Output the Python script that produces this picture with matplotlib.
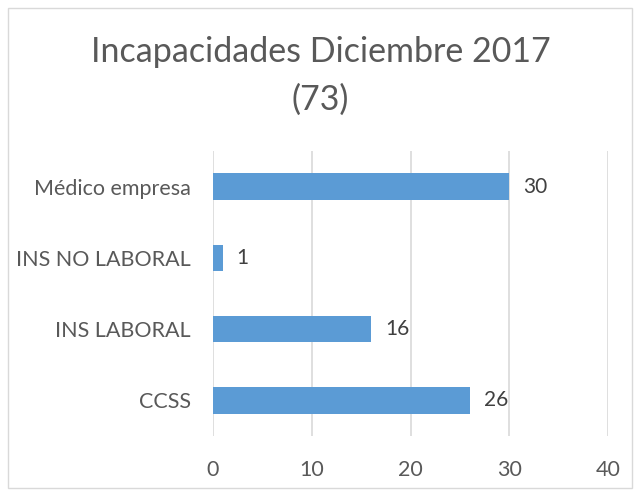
import matplotlib
matplotlib.use("Agg")
import matplotlib.pyplot as plt
from matplotlib.patches import Rectangle

categories = ["CCSS", "INS LABORAL", "INS NO LABORAL", "Médico empresa"]
values = [26, 16, 1, 30]
xticks = [0, 10, 20, 30, 40]
title_line1 = "Incapacidades Diciembre 2017"
title_line2 = "(73)"

plt.rcParams['font.family'] = ['Lato', 'DejaVu Sans']

fig = plt.figure(figsize=(6.41, 4.96), dpi=100)
ax = fig.add_axes([213/641, 1 - 436/496, (608-213)/641, (436-151)/496])

ypos = list(range(len(categories)))
ax.barh(ypos, values, height=0.37, color="#5B9BD5", zorder=3)
for y, v in zip(ypos, values):
    ax.text(v + 1.4, y, str(v), va="center", ha="left", fontsize=15, color="#404040")

ax.set_xlim(0, 40)
ax.set_ylim(-0.5, 3.5)
ax.set_yticks(ypos)
ax.set_yticklabels(categories, fontsize=15.5, color="#595959")
ax.set_xticks(xticks)
ax.set_xticklabels([str(t) for t in xticks], fontsize=15.5, color="#595959")
ax.tick_params(axis='y', length=0, pad=16)
ax.tick_params(axis='x', length=0, pad=17)
for s in ax.spines.values():
    s.set_visible(False)
ax.grid(axis='x', color="#D9D9D9", linewidth=1.2, zorder=0)

fig.text(0.5, 1 - 52/496, title_line1, ha="center", va="center", fontsize=24.5, color="#595959")
fig.text(0.5, 1 - 100/496, title_line2, ha="center", va="center", fontsize=24.5, color="#595959")

fig.patches.append(Rectangle((8/641, 8/496), (632-8)/641, (488-8)/496, transform=fig.transFigure,
                             fill=False, edgecolor="#D9D9D9", linewidth=1))

fig.savefig("out.png", dpi=100)
